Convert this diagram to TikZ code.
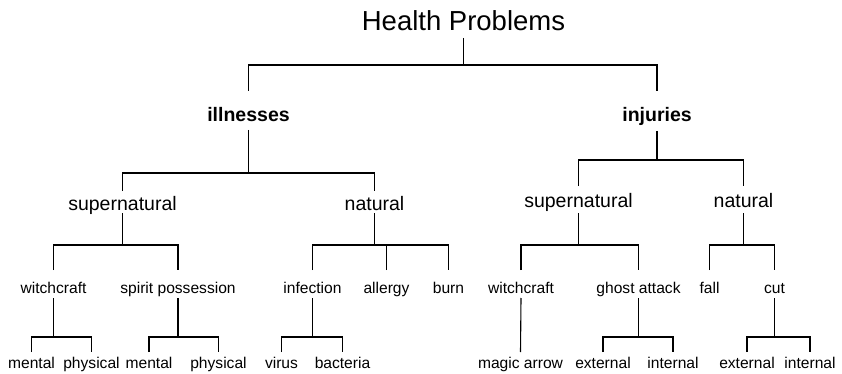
\documentclass[tikz,border=0pt]{standalone}
\usepackage{fontspec}
\setmainfont{Liberation Sans}
\usetikzlibrary{positioning,calc}

\begin{document}
\begin{tikzpicture}[
x=1pt,
y=-1pt,
rootlabel/.style={
anchor=base,
font=\fontsize{27.5}{32}\selectfont
},
catlabel/.style={
anchor=base,
font=\bfseries\fontsize{19.5}{23}\selectfont
},
kindlabel/.style={
anchor=base,
font=\fontsize{19.5}{23}\selectfont
},
leaflabel/.style={
anchor=base,
font=\fontsize{15.6}{18}\selectfont
},
link/.style={
line width=1.1pt
}
]

\useasboundingbox (0,0) rectangle (842,374);


% Root

\node (hp) [rootlabel] at (463.5,31) {Health Problems};


% Categories

\node (ill) [catlabel] at (248.5,122) {illnesses};
\node (inj) [catlabel] at (657,122) {injuries};


% Kinds

\node (illsup) [kindlabel] at (122.5,210) {supernatural};
\node (illnat) [kindlabel] at (374.5,210) {natural};
\node (injsup) [kindlabel] at (578.5,207) {supernatural};
\node (injnat) [kindlabel] at (743.5,207) {natural};


% Causes

\node (witch1) [leaflabel] at (53.5,293) {witchcraft};
\node (spirit) [leaflabel] at (178,293) {spirit possession};
\node (infect) [leaflabel] at (312.5,293) {infection};
\node (allergy) [leaflabel] at (386.5,293) {allergy};
\node (burn) [leaflabel] at (448.5,293) {burn};
\node (witch2) [leaflabel] at (521,293) {witchcraft};
\node (ghost) [leaflabel] at (638.5,293) {ghost attack};
\node (fall) [leaflabel] at (709.5,293) {fall};
\node (cut) [leaflabel] at (774.5,293) {cut};


% Leaves

\node (ment1) [leaflabel] at (31.5,368) {mental};
\node (phys1) [leaflabel] at (91.5,368) {physical};
\node (ment2) [leaflabel] at (149,368) {mental};
\node (phys2) [leaflabel] at (218.5,368) {physical};
\node (virus) [leaflabel] at (281.5,368) {virus};
\node (bact) [leaflabel] at (342.5,368) {bacteria};
\node (magic) [leaflabel] at (520.5,368) {magic arrow};
\node (ext1) [leaflabel] at (603,368) {external};
\node (int1) [leaflabel] at (673,368) {internal};
\node (ext2) [leaflabel] at (747,368) {external};
\node (int2) [leaflabel] at (810,368) {internal};


% Bar levels

\coordinate (b1) at (0,65);
\coordinate (b2) at (0,173);
\coordinate (b3) at (0,160);
\coordinate (t4) at (0,213);
\coordinate (b4) at (0,245);
\coordinate (b5) at (0,337);


% Root to categories

\draw[link] ($(hp.base)+(0,7)$) -- (hp.base |- b1);
\draw[link] ($(ill.base)+(0,-31)$) |- (inj.base |- b1) -- ($(inj.base)+(0,-31)$);


% Categories to kinds

\draw[link] ($(ill.base)+(0,8)$) -- (ill.base |- b2);
\draw[link] ($(illsup.base)+(0,-19)$) |- (illnat.base |- b2) -- ($(illnat.base)+(0,-19)$);

\draw[link] ($(inj.base)+(0,9)$) -- (inj.base |- b3);
\draw[link] ($(injsup.base)+(0,-21)$) |- (injnat.base |- b3) -- ($(injnat.base)+(0,-21)$);


% Kinds to causes

\foreach \pa/\ca/\cb in {illsup/witch1/spirit, illnat/infect/burn, injsup/witch2/ghost, injnat/fall/cut} {
\draw[link] (\pa.base |- t4) -- (\pa.base |- b4);
\draw[link] ($(\ca.base)+(0,-23)$) |- (\cb.base |- b4) -- ($(\cb.base)+(0,-23)$);
}
\draw[link] ($(allergy.base)+(0,-23)$) -- (allergy.base |- b4);


% Causes to leaves

\foreach \pa/\ca/\cb in {witch1/ment1/phys1, spirit/ment2/phys2, infect/virus/bact, ghost/ext1/int1, cut/ext2/int2} {
\draw[link] ($(\pa.base)+(0,5)$) -- (\pa.base |- b5);
\draw[link] ($(\ca.base)+(0,-16)$) |- (\cb.base |- b5) -- ($(\cb.base)+(0,-16)$);
}
\draw[link] ($(witch2.base)+(0,5)$) -- ($(magic.base)+(0,-16)$);


\end{tikzpicture}
\end{document}
